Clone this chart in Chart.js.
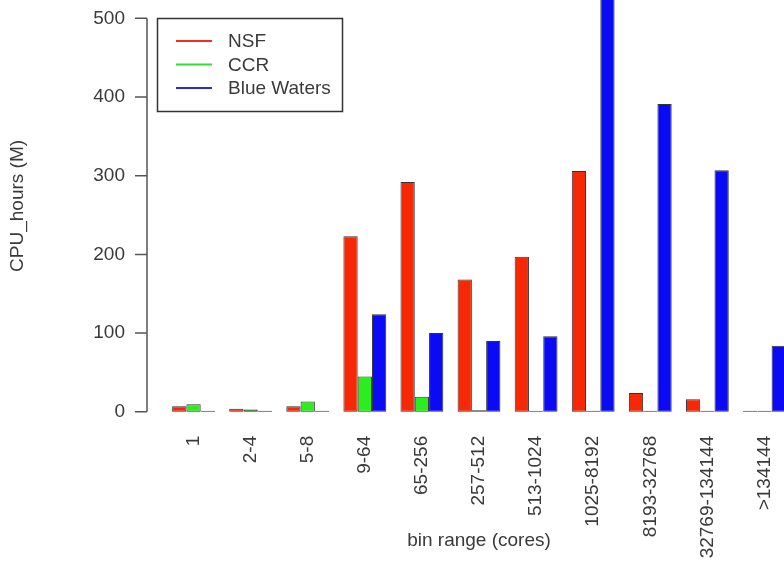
<!DOCTYPE html>
<html>
<head>
<meta charset="utf-8">
<script src="https://cdn.jsdelivr.net/npm/chart.js@4/dist/chart.umd.min.js"></script>
<style>
  html, body { margin: 0; padding: 0; background: #fff; overflow: hidden; }
  #wrap { width: 794px; height: 562px; position: relative; }
</style>
</head>
<body>
<div id="wrap"><canvas id="chart"></canvas></div>
<script>
// bins of job size (cores)
const binLabels = ['1', '2-4', '5-8', '9-64', '65-256', '257-512', '513-1024',
                   '1025-8192', '8193-32768', '32769-134144', '>134144'];

// CPU hours (millions) per resource
const nsfHours = [7, 4, 7, 223, 292, 168, 197, 306, 24, 16, 0];
const ccrHours = [9.5, 3, 13, 45, 19, 2, 0, 1, 0, 0, 0];
const blueWatersHours = [0, 0, 0, 124, 100, 90, 96, 540, 391, 307, 84];

const yTicks = [0, 100, 200, 300, 400, 500];

const FONT = "'Liberation Sans', Arial, sans-serif";
const TEXT = '#3a3a3a';

// R style y axis: line from first to last tick, sitting left of the bars
const rAxis = {
    id: 'rAxis',
    afterDraw(chart) {
        const ctx = chart.ctx;
        const y = chart.scales.y;
        const x0 = 147;
        ctx.save();
        ctx.strokeStyle = '#555';
        ctx.lineWidth = 1.5;
        ctx.beginPath();
        ctx.moveTo(x0, y.getPixelForValue(yTicks[0]));
        ctx.lineTo(x0, y.getPixelForValue(yTicks[yTicks.length - 1]));
        yTicks.forEach(v => {
            const py = y.getPixelForValue(v);
            ctx.moveTo(x0, py);
            ctx.lineTo(x0 - 12, py);
        });
        ctx.stroke();
        ctx.restore();
    }
};

// boxed legend with line keys, top left of the plot
const boxLegend = {
    id: 'boxLegend',
    afterDraw(chart) {
        const ctx = chart.ctx;
        ctx.save();
        ctx.strokeStyle = '#333';
        ctx.lineWidth = 1.5;
        ctx.strokeRect(157.5, 18.5, 185, 93);
        ctx.font = '19px ' + FONT;
        ctx.textBaseline = 'middle';
        ctx.fillStyle = TEXT;
        chart.data.datasets.forEach((ds, i) => {
            const ly = 41 + i * 23.5;
            ctx.strokeStyle = ds.legendColor;
            ctx.lineWidth = 2;
            ctx.beginPath();
            ctx.moveTo(176, ly);
            ctx.lineTo(212, ly);
            ctx.stroke();
            ctx.fillText(ds.label, 228, ly + 1);
        });
        ctx.restore();
    }
};

new Chart(document.getElementById('chart'), {
    type: 'bar',
    data: {
        labels: binLabels,
        datasets: [
            { label: 'NSF', data: nsfHours, backgroundColor: 'rgb(246,40,6)', legendColor: '#f0301e' },
            { label: 'CCR', data: ccrHours, backgroundColor: 'rgb(44,238,30)', legendColor: '#30e030' },
            { label: 'Blue Waters', data: blueWatersHours, backgroundColor: 'rgb(10,10,244)', legendColor: '#2828e6' }
        ]
    },
    options: {
        responsive: true,
        maintainAspectRatio: false,
        animation: false,
        layout: { padding: { left: 0, right: 1, top: 0, bottom: 0 }, autoPadding: false },
        datasets: {
            bar: {
                categoryPercentage: 0.75,
                barPercentage: 1,
                borderWidth: 1,
                borderColor: '#333',
                borderSkipped: false,
                minBarLength: 1,
                clip: false
            }
        },
        plugins: {
            legend: { display: false },
            tooltip: { enabled: false }
        },
        scales: {
            x: {
                grid: { display: false, drawTicks: false },
                border: { display: false },
                ticks: {
                    color: TEXT,
                    font: { family: FONT, size: 19 },
                    minRotation: 90,
                    maxRotation: 90,
                    padding: 24,
                    autoSkip: false
                },
                title: {
                    display: true,
                    text: 'bin range (cores)',
                    color: TEXT,
                    font: { family: FONT, size: 19 },
                    padding: { top: 4, bottom: 9.6 }
                },
                afterFit(scale) {
                    scale.height = 150.2;
                    scale.paddingLeft = 0;
                    scale.paddingRight = 0;
                }
            },
            y: {
                min: 0,
                max: 523.3,
                grid: { display: false, drawTicks: false },
                border: { display: false },
                ticks: {
                    stepSize: 100,
                    includeBounds: false,
                    color: TEXT,
                    font: { family: FONT, size: 19 },
                    padding: 40
                },
                title: {
                    display: true,
                    text: 'CPU_hours (M)',
                    color: TEXT,
                    font: { family: FONT, size: 19 },
                    padding: { top: 6.6, bottom: 0 }
                },
                afterFit(scale) {
                    scale.width = 165;
                    scale.paddingTop = 0;
                    scale.paddingBottom = 0;
                }
            }
        }
    },
    plugins: [rAxis, boxLegend]
});
</script>
</body>
</html>
